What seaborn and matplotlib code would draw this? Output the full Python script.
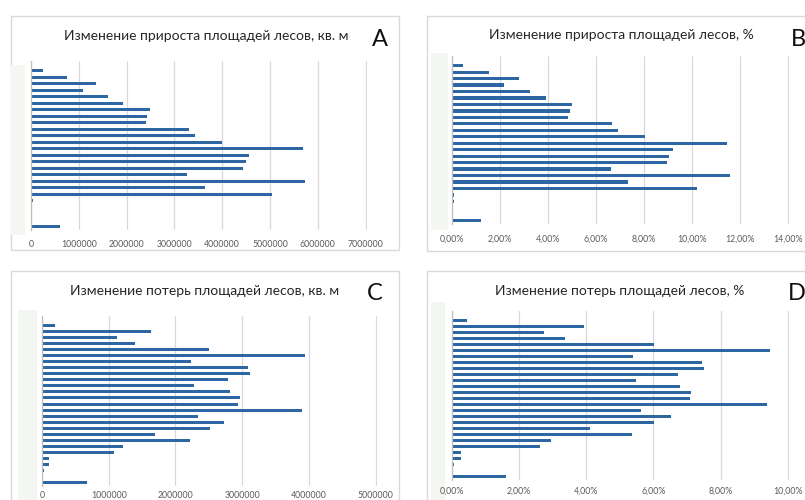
import matplotlib
matplotlib.use("Agg")
import matplotlib.pyplot as plt
from matplotlib.patches import Rectangle
import pandas as pd
import seaborn as sns

# Forest area gain / loss per row (top row first)
gain_area = [5000, 250000, 760000, 1370000, 1080000, 1610000, 1930000, 2490000,
             2430000, 2400000, 3300000, 3430000, 4000000, 5680000, 4570000,
             4490000, 4430000, 3270000, 5740000, 3630000, 5050000, 35000,
             30000, 20000, 0, 610000]
gain_pct = [0.03, 0.47, 1.55, 2.78, 2.17, 3.25, 3.90, 5.01, 4.94, 4.84, 6.66,
            6.93, 8.07, 11.47, 9.20, 9.05, 8.96, 6.63, 11.58, 7.34, 10.20, 0.10,
            0.08, 0.06, 0.03, 1.23]
loss_area = [10000, 200000, 1640000, 1130000, 1390000, 2500000, 3940000, 2230000,
             3090000, 3110000, 2790000, 2280000, 2810000, 2960000, 2940000,
             3890000, 2340000, 2720000, 2510000, 1700000, 2220000, 1220000,
             1080000, 110000, 110000, 25000, 10000, 670000]
loss_pct = [0.02, 0.46, 3.94, 2.74, 3.36, 6.03, 9.48, 5.39, 7.45, 7.50, 6.73,
            5.47, 6.78, 7.13, 7.08, 9.37, 5.62, 6.53, 6.03, 4.10, 5.36, 2.95,
            2.61, 0.26, 0.26, 0.07, 0.02, 1.62]

titles = ["Изменение прироста площадей лесов, кв. м",
          "Изменение прироста площадей лесов, %",
          "Изменение потерь площадей лесов, кв. м",
          "Изменение потерь площадей лесов, %"]
letters = ["A", "B", "C", "D"]
area_ticks_gain = [0, 1000000, 2000000, 3000000, 4000000, 5000000, 6000000, 7000000]
pct_ticks_gain = [0, 2, 4, 6, 8, 10, 12, 14]
area_ticks_loss = [0, 1000000, 2000000, 3000000, 4000000, 5000000]
pct_ticks_loss = [0, 2, 4, 6, 8, 10]

W, H = 805, 500
BLUE = "#2c66a3"
GRID = "#d9d9d9"
TEXT = "#595959"

sns.set_theme(style="white")
plt.rcParams["font.family"] = ["Lato", "DejaVu Sans"]

fig = plt.figure(figsize=(W / 100, H / 100), dpi=100)
fig.patch.set_facecolor("white")


def fx(x):
    return x / W


def fy(y):
    return 1 - y / H


def frame(x0, y0, x1, y1, **kw):
    fig.patches.append(Rectangle((fx(x0), fy(y1)), fx(x1) - fx(x0), fy(y0) - fy(y1),
                                 transform=fig.transFigure, **kw))


def fmt_area(v):
    return f"{v:d}"


def fmt_pct(v):
    return f"{v:.2f}%".replace(".", ",")


panels = [
    # values, ticks, formatter, box, strip, axes(x0, x1, ytop, ybot), pad, title xy, letter xy
    (gain_area, area_ticks_gain, fmt_area, (11, 16, 399, 250), (11, 65, 25, 235),
     (31, 367, 61, 230), 7.5, (206, 36), (380, 40)),
    (gain_pct, pct_ticks_gain, fmt_pct, (427, 16, 830, 251), (431, 53, 448, 230),
     (452, 789, 56, 224), 8.0, (621, 35), (798, 40)),
    (loss_area, area_ticks_loss, fmt_area, (11, 271, 399, 520), (18, 310, 37, 520),
     (42, 377, 316, 486), 3.5, (205, 291), (375, 294)),
    (loss_pct, pct_ticks_loss, fmt_pct, (427, 271, 830, 520), (431, 302, 445, 520),
     (452, 789, 311, 480), 4.5, (620, 291), (797, 294)),
]

for i, (vals, ticks, fmt, box, strip, axpos, pad, tpos, lpos) in enumerate(panels):
    frame(box[0], box[1], box[2], box[3], facecolor="white", edgecolor=GRID,
          linewidth=1.0, zorder=0)
    frame(strip[0], strip[1], strip[2], strip[3], facecolor="#f4f6f1",
          edgecolor="none", zorder=0.5)

    x0, x1, yt, yb = axpos
    ax = fig.add_axes([fx(x0), fy(yb), fx(x1) - fx(x0), fy(yt) - fy(yb)])
    ax.set_zorder(2)
    ax.set_facecolor("none")

    df = pd.DataFrame({"row": [str(k + 1) for k in range(len(vals))], "value": vals})
    sns.barplot(data=df, x="value", y="row", orient="h", color=BLUE,
                width=0.5, saturation=1, linewidth=0, ax=ax)

    span = ticks[-1]
    ax.set_xlim(0, span * 1.004)
    ax.set_ylim(len(vals) - 0.5, -0.5)
    ax.set_xticks(ticks)
    ax.set_xticklabels([fmt(t) for t in ticks], fontsize=6.3, color=TEXT)
    ax.set_yticks([])
    ax.set_xlabel("")
    ax.set_ylabel("")
    ax.tick_params(axis="x", length=0, pad=pad)
    ax.grid(axis="x", color=GRID, linewidth=0.9)
    ax.set_axisbelow(True)
    for side in ["top", "right", "bottom"]:
        ax.spines[side].set_visible(False)
    ax.spines["left"].set_color("#bfbfbf")
    ax.spines["left"].set_linewidth(0.9)

    fig.text(fx(tpos[0]), fy(tpos[1]), titles[i], ha="center", va="center",
             fontsize=10, color="#262626", zorder=3)
    fig.text(fx(lpos[0]), fy(lpos[1]), letters[i], ha="center", va="center",
             fontsize=17, color="#111111", zorder=3)

fig.savefig("out.png", dpi=100)
